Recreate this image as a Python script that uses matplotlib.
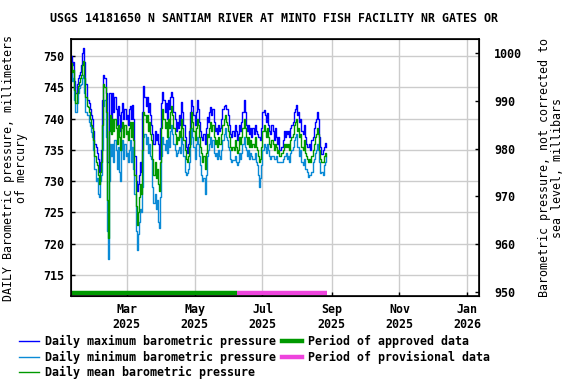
"""
Daily barometric pressure at USGS 14181650, Jan - Aug 2025.

Writes out.png (576x384).
"""

import matplotlib
matplotlib.use("Agg")
import matplotlib.dates as mdates
import matplotlib.pyplot as plt
import pandas as pd
from matplotlib.lines import Line2D

# ── Data ──────────────────────────────────────────────────────────────────────

START_DATE = "2025-01-10"
APPROVED_END = "2025-06-08"
PROVISIONAL_END = "2025-08-28"

# daily values, mmHg
p_max = [
    750.0, 748.5, 749.0, 746.0, 744.0, 745.5, 746.5, 747.0, 747.5, 748.5,
    750.5, 751.3, 749.0, 745.5, 743.0, 743.0, 742.5, 741.5, 740.5, 740.0,
    738.0, 736.0, 735.5, 734.5, 733.5, 731.5, 733.0, 735.0, 743.0, 747.0,
    746.5, 744.0, 733.0, 733.0, 744.0, 744.0, 740.0, 744.0, 741.0, 743.5,
    741.5, 739.0, 742.0, 740.5, 738.0, 741.0, 742.5, 740.0, 741.5, 740.0,
    740.5, 739.0, 741.5, 742.0, 740.0, 742.2, 740.0, 734.0, 730.0, 728.5,
    729.5, 731.0, 733.0, 731.5, 741.0, 745.2, 743.5, 742.0, 743.5, 741.0,
    742.5, 740.5, 739.0, 737.5, 736.0, 738.0, 736.5, 737.5, 736.0, 733.5,
    738.5, 742.5, 744.3, 743.0, 741.0, 742.5, 740.0, 743.0, 741.5, 743.5,
    744.3, 743.5, 741.0, 740.0, 738.0, 739.5, 738.5, 740.5, 739.0, 742.7,
    741.0, 739.0, 737.0, 735.5, 734.5, 736.0, 738.0, 741.0, 743.0, 742.0,
    740.5, 739.0, 741.0, 743.0, 741.5, 739.5, 738.0, 737.0, 736.5, 737.5,
    736.0, 738.5, 740.3, 739.5, 741.0, 741.9, 740.5, 741.5, 739.5, 738.0,
    738.5, 737.5, 739.0, 738.0, 738.5, 740.0, 741.5, 742.0, 742.2, 741.5,
    741.5, 740.5, 739.0, 737.5, 737.0, 738.0, 737.2, 739.0, 738.0, 736.5,
    737.5, 739.0, 738.0, 739.5, 741.0, 743.0, 741.0, 739.0, 738.0, 739.0,
    737.5, 738.5, 737.0, 738.5, 737.5, 739.0, 738.0, 737.5, 737.0, 737.0,
    736.5, 738.5, 741.0, 741.4, 740.5, 739.5, 740.9, 739.0, 738.0, 737.5,
    739.0, 738.0, 736.5, 738.5, 737.0, 736.0, 737.0, 735.0, 735.0, 735.5,
    736.5, 738.0, 737.0, 738.0, 737.5, 738.0, 737.0, 738.5, 739.0, 739.5,
    741.0, 741.5, 742.2, 740.5, 741.0, 739.5, 740.0, 738.0, 737.5, 739.0,
    737.0, 736.0, 735.5, 735.5, 736.0, 735.0, 736.5, 737.0, 738.5, 739.5,
    740.0, 741.1, 740.0, 737.0, 735.4, 734.4, 735.0, 735.5, 736.1, 735.5,
]

p_mean = [
    748.8, 747.5, 747.8, 744.5, 742.5, 744.0, 745.2, 745.8, 746.5, 747.0,
    748.5, 749.2, 746.5, 743.5, 742.0, 741.8, 741.0, 740.0, 739.0, 738.5,
    736.5, 734.0, 733.0, 732.5, 731.0, 729.5, 731.5, 733.0, 739.0, 745.5,
    745.0, 741.0, 727.0, 721.0, 738.0, 740.5, 737.5, 740.0, 738.0, 740.0,
    738.5, 736.0, 739.0, 737.0, 735.0, 738.5, 739.5, 737.0, 739.0, 737.5,
    738.0, 736.5, 738.5, 739.5, 737.0, 739.5, 736.5, 731.0, 726.0, 723.0,
    725.0, 727.5, 729.5, 728.0, 735.0, 741.0, 740.5, 739.5, 740.5, 738.0,
    739.5, 737.5, 736.5, 733.5, 731.0, 733.0, 730.5, 732.0, 729.5, 728.5,
    733.0, 738.5, 741.5, 740.0, 738.5, 739.5, 737.0, 740.0, 738.5, 741.0,
    742.0, 740.5, 738.5, 737.5, 736.0, 737.0, 736.5, 738.0, 737.0, 740.0,
    738.5, 736.5, 735.0, 733.5, 733.0, 734.0, 735.5, 738.5, 741.0, 739.5,
    738.0, 736.5, 738.5, 740.0, 739.0, 737.0, 735.5, 734.5, 733.0, 734.0,
    732.0, 734.5, 737.5, 737.0, 738.5, 739.5, 738.0, 739.0, 737.0, 736.0,
    736.5, 735.5, 737.0, 736.0, 736.0, 737.5, 739.0, 740.0, 740.5, 739.5,
    739.0, 738.0, 737.0, 735.5, 735.0, 735.5, 735.0, 736.5, 735.5, 734.5,
    735.0, 737.0, 736.0, 737.0, 738.5, 740.0, 738.5, 737.0, 736.0, 737.0,
    735.5, 736.5, 735.5, 736.0, 735.5, 737.0, 735.5, 735.0, 734.0, 733.0,
    733.5, 735.5, 738.0, 739.0, 738.0, 737.0, 738.5, 737.0, 736.0, 735.5,
    736.5, 736.0, 735.0, 736.0, 735.5, 734.5, 735.0, 734.0, 734.0, 734.5,
    735.0, 736.0, 735.5, 736.0, 735.5, 736.0, 735.0, 736.5, 737.0, 737.5,
    739.0, 739.5, 740.0, 738.0, 738.5, 737.0, 737.5, 735.5, 735.0, 736.5,
    734.5, 734.0, 733.5, 733.0, 733.5, 733.0, 734.0, 735.0, 736.0, 737.0,
    737.5, 738.5, 737.5, 735.0, 733.5, 733.0, 733.0, 734.0, 734.5, 734.0,
]

p_min = [
    747.2, 746.0, 746.5, 743.0, 741.0, 742.5, 744.0, 744.8, 745.3, 745.5,
    746.5, 747.0, 744.0, 741.0, 740.5, 740.5, 739.5, 738.8, 737.8, 737.0,
    735.0, 732.0, 730.0, 730.5, 728.0, 727.5, 730.0, 731.0, 735.0, 742.0,
    743.0, 737.0, 722.0, 717.5, 730.0, 736.0, 734.0, 736.0, 733.0, 736.5,
    735.0, 732.0, 735.5, 731.5, 730.0, 735.0, 736.5, 733.5, 736.0, 734.0,
    734.5, 733.0, 735.0, 736.5, 733.0, 735.5, 732.0, 728.0, 722.0, 719.0,
    721.5, 723.5, 725.5, 725.0, 729.0, 737.0, 737.5, 736.0, 737.0, 734.5,
    736.0, 734.0, 733.5, 729.0, 726.5, 728.0, 725.5, 727.0, 723.5, 722.5,
    727.5, 734.0, 737.0, 736.0, 735.0, 736.5, 734.5, 737.0, 735.5, 738.0,
    739.0, 737.5, 736.0, 735.0, 734.0, 734.5, 735.0, 735.5, 734.5, 737.0,
    736.0, 734.0, 731.5, 731.0, 731.3, 732.0, 733.0, 736.0, 738.5, 737.0,
    735.5, 733.5, 736.0, 737.0, 736.0, 734.0, 732.5, 731.0, 730.0, 730.5,
    728.0, 731.0, 734.0, 735.0, 736.0, 737.0, 735.5, 736.5, 734.5, 734.0,
    734.5, 733.5, 735.0, 734.0, 733.5, 735.0, 736.5, 737.5, 738.5, 737.0,
    736.5, 735.5, 735.0, 733.5, 733.0, 733.3, 733.3, 734.0, 733.0, 732.5,
    733.0, 734.5, 733.5, 734.5, 736.0, 737.0, 735.5, 735.0, 734.0, 735.0,
    733.5, 734.5, 734.0, 733.5, 733.5, 734.5, 733.0, 732.5, 731.0, 729.0,
    730.5, 732.5, 735.0, 736.0, 735.5, 734.5, 736.0, 735.0, 734.0, 733.5,
    734.0, 734.0, 733.5, 733.5, 734.0, 733.0, 733.0, 733.1, 733.1, 733.0,
    733.5, 734.0, 734.0, 734.5, 733.5, 734.0, 733.0, 734.5, 735.0, 735.5,
    736.5, 737.0, 737.5, 735.5, 735.5, 734.0, 735.0, 733.0, 732.5, 733.5,
    732.0, 732.0, 731.5, 730.7, 731.0, 731.0, 731.5, 733.0, 733.5, 734.5,
    735.0, 736.0, 735.0, 733.0, 731.3, 731.5, 731.0, 732.5, 733.0, 733.9,
]

TITLE = "USGS 14181650 N SANTIAM RIVER AT MINTO FISH FACILITY NR GATES OR"
LEFT_LABEL = "DAILY Barometric pressure, millimeters\nof mercury"
RIGHT_LABEL = "Barometric pressure, not corrected to\nsea level, millibars"

# ── Style ─────────────────────────────────────────────────────────────────────

FONT_FAMILY = "DejaVu Sans Mono"
FS = 8.35
C_MAX  = "#0000ff"
C_MIN  = "#0a8ad6"
C_MEAN = "#009900"
C_APPROVED    = "#009900"
C_PROVISIONAL = "#ee44dd"
C_GRID = "#cccccc"


def main() -> None:
    plt.rcParams["font.family"] = FONT_FAMILY
    plt.rcParams["font.weight"] = "bold"
    plt.rcParams["font.size"] = FS

    dates = pd.date_range(START_DATE, periods=len(p_mean), freq="D")

    fig = plt.figure(figsize=(5.76, 3.84), dpi=100)
    ax = fig.add_axes([0.1233, 0.2292, 0.7083, 0.6692])

    l_max, = ax.plot(dates, p_max, color=C_MAX, lw=1.0, drawstyle="steps-post")
    l_min, = ax.plot(dates, p_min, color=C_MIN, lw=1.0, drawstyle="steps-post")
    l_mean, = ax.plot(dates, p_mean, color=C_MEAN, lw=1.0, drawstyle="steps-post")

    # approval status bars along the bottom
    bar_y = 712.2
    ax.plot([pd.Timestamp(START_DATE), pd.Timestamp(APPROVED_END)], [bar_y, bar_y],
            color=C_APPROVED, lw=3.2, solid_capstyle="butt")
    ax.plot([pd.Timestamp(APPROVED_END), pd.Timestamp(PROVISIONAL_END)], [bar_y, bar_y],
            color=C_PROVISIONAL, lw=3.2, solid_capstyle="butt")

    ax.set_xlim(pd.Timestamp("2025-01-10"), pd.Timestamp("2026-01-11 12:00"))
    ax.set_ylim(711.66, 752.7)
    ax.set_yticks(range(715, 751, 5))

    ax.xaxis.set_major_locator(mdates.MonthLocator(bymonth=[1, 3, 5, 7, 9, 11]))
    ax.xaxis.set_major_formatter(mdates.DateFormatter("%b\n%Y"))

    ax.grid(True, color=C_GRID, lw=1.0)
    ax.set_axisbelow(True)
    ax.tick_params(direction="in", length=3, width=1, labelsize=FS, pad=5)
    for s in ax.spines.values():
        s.set_linewidth(1.2)

    ax.set_ylabel(LEFT_LABEL, fontsize=FS, labelpad=11, linespacing=1.0)
    fig.text(0.476, 0.953, TITLE, ha="center", va="center", fontsize=FS)

    # right axis in millibars
    ax2 = ax.twinx()
    ax2.set_ylim(949.16, 1002.9)
    ax2.set_yticks(range(950, 1001, 10))
    ax2.tick_params(direction="in", length=3, width=1, labelsize=FS, pad=11)
    ax2.set_ylabel(RIGHT_LABEL, fontsize=FS, labelpad=11, linespacing=1.0)

    handles = [
        l_max, l_min, l_mean,
        Line2D([], [], color=C_APPROVED, lw=3.2),
        Line2D([], [], color=C_PROVISIONAL, lw=3.2),
    ]
    labels = [
        "Daily maximum barometric pressure",
        "Daily minimum barometric pressure",
        "Daily mean barometric pressure",
        "Period of approved data",
        "Period of provisional data",
    ]
    fig.legend(handles, labels, loc="upper left", bbox_to_anchor=(0.033, 0.128),
               ncol=2, frameon=False, fontsize=FS, handlelength=1.7,
               handletextpad=0.5, columnspacing=0.6, labelspacing=0.22,
               borderaxespad=0, borderpad=0)

    fig.savefig("out.png", dpi=100)
    plt.close(fig)


if __name__ == "__main__":
    main()
